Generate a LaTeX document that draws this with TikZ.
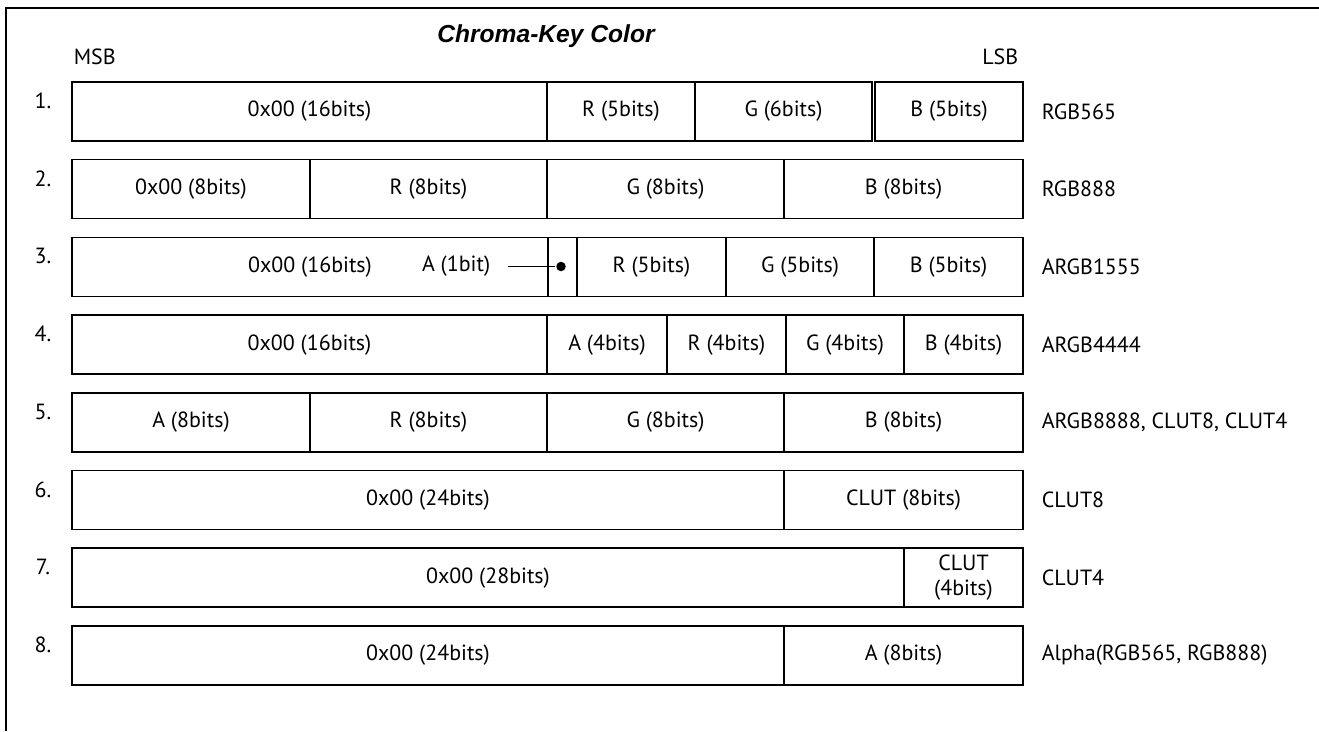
\documentclass[tikz,border=0pt]{standalone}
\usepackage{fontspec}
\setmainfont{PT Sans}
\newfontfamily\titlefont{Liberation Sans}
\usetikzlibrary{fit}
\tikzset{
  every picture/.style={font=\fontsize{12.5}{14}\selectfont, line width=0.9pt},
  cell/.style={draw, inner sep=0pt},
  celltext/.style={align=center, inner sep=0pt},
  frame/.style={line width=1.5pt},
  title/.style={font=\titlefont\fontsize{14}{16}\selectfont\bfseries\itshape},
  fmt/.style={anchor=west, inner sep=0pt},
  num/.style={inner sep=0pt},
  dot/.style={circle, fill, inner sep=0pt, minimum size=0.19cm},
}
\begin{document}
\begin{tikzpicture}[x=0.02cm, y=-0.02cm]
  \useasboundingbox (0,0) rectangle (1319,731);
  % frame round the figure
  \draw[frame] (6,731) -- (6,8) -- (1319,8);
  \node[title] (title) at (546,36) {Chroma-Key Color};
  \node[anchor=west, inner sep=0pt] (msb) at (73,57) {MSB};
  \node[anchor=east, inner sep=0pt] (lsb) at (1019,57) {LSB};
  % bit fields: name/left/right/row/text
  \foreach \nm/\a/\b/\r/\txt in {
    c1a/72/547/1/{0x00 (16bits)}, c1b/547/695/1/{R (5bits)}, c1c/695/872/1/{G (6bits)}, c1d/875/1023/1/{B (5bits)},
    c2a/72/310/2/{0x00 (8bits)}, c2b/310/547/2/{R (8bits)}, c2c/547/784/2/{G (8bits)}, c2d/784/1023/2/{B (8bits)},
    c3a/72/548/3/{0x00 (16bits)}, c3b/548/577/3/{}, c3c/577/726/3/{R (5bits)}, c3d/726/874/3/{G (5bits)}, c3e/874/1023/3/{B (5bits)},
    c4a/72/547/4/{0x00 (16bits)}, c4b/547/667/4/{A (4bits)}, c4c/667/786/4/{R (4bits)}, c4d/786/904/4/{G (4bits)}, c4e/904/1023/4/{B (4bits)},
    c5a/72/310/5/{A (8bits)}, c5b/310/547/5/{R (8bits)}, c5c/547/784/5/{G (8bits)}, c5d/784/1023/5/{B (8bits)},
    c6a/72/784/6/{0x00 (24bits)}, c6b/784/1023/6/{CLUT (8bits)},
    c7a/72/904/7/{0x00 (28bits)}, c7b/904/1023/7/{CLUT\\(4bits)},
    c8a/72/784/8/{0x00 (24bits)}, c8b/784/1023/8/{A (8bits)}}
  {
    \pgfmathsetmacro\ytop{82+77.7*(\r-1)}
    \node[cell, fit={(\a,\ytop) (\b,\ytop+59)}] (\nm) {};
    \node[celltext] (\nm t) at (\nm) {\txt};
  }
  % row numbers and format names
  \foreach \r/\f in {1/RGB565, 2/RGB888, 3/ARGB1555, 4/ARGB4444, 5/{ARGB8888, CLUT8, CLUT4},
    6/CLUT8, 7/CLUT4, 8/{Alpha(RGB565, RGB888)}}
  {
    \pgfmathsetmacro\ytop{82+77.7*(\r-1)}
    \node[num] (n\r) at (43,\ytop+19) {\r.};
    \node[fmt] (f\r) at (1041,\ytop+29.5) {\f};
  }
  % alpha bit of ARGB1555
  \node[anchor=east, inner xsep=0.34cm, inner ysep=0pt] (abit) at (508,266.5) {A (1bit)};
  \node[dot] (adot) at (561,266.5) {};
  \draw[line width=1.1pt] (abit.east) -- (adot);
\end{tikzpicture}
\end{document}
